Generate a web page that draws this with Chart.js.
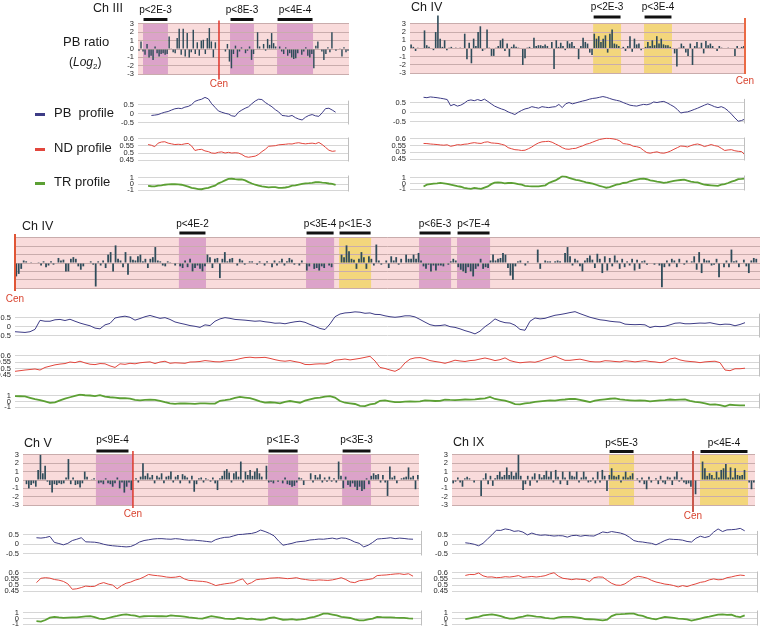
<!DOCTYPE html>
<html><head><meta charset="utf-8">
<script src="https://cdn.jsdelivr.net/npm/chart.js@4.4.1/dist/chart.umd.min.js"></script>
<style>
html,body{margin:0;padding:0;background:#fff;}
#wrap{position:relative;width:763px;height:631px;overflow:hidden;background:#fff;font-family:"Liberation Sans",Arial,Helvetica,sans-serif;color:#1a1a1a;}
#wrap canvas{position:absolute;}
.t{position:absolute;white-space:pre;}
.dash{position:absolute;height:3px;width:10px;}
</style></head><body><div id="wrap"></div>
<script>
const _ = null;

/* ---------- tick labels ---------- */
const ratioTicks = [-3,-2,-1,0,1,2,3];
const pbTicks = [-0.5,0,0.5];
const ndTicks = [0.45,0.5,0.55,0.6];
const trTicks = [-1,0,1];

/* ---------- titles / legend text ---------- */
const chromosomes = ['Ch III','Ch IV','Ch IV','Ch V','Ch IX'];
const legendLabels = ['PB  profile','ND profile','TR profile'];

/* ---------- Ch III ---------- */
const chIII_ratio = [
-0.2,0.9,-0.3,-0.7,0.6,-1.0,-0.8,-1.3,0.3,-0.5,
-0.9,-0.6,-0.5,-0.7,-0.6,1.5,0.1,-0.4,-0.5,1.3,
2.4,-0.7,2.4,-0.9,1.9,-1.0,-0.4,2.3,-0.6,0.8,
-0.8,1.0,1.1,-0.6,1.3,2.5,0.9,-1.0,0.8,_,
_,_,_,-0.3,0.6,-1.5,-2.3,-0.6,0.4,-1.0,
-0.3,0.2,_,-0.5,-0.2,0.3,-1.3,-0.6,_,2.0,
0.3,_,0.6,-0.2,1.2,0.5,1.9,0.7,0.3,_,
0.3,-0.3,-0.6,0.2,-0.8,-0.5,-1.0,-1.2,-1.1,-0.5,
_,-0.7,-0.3,0.2,-0.8,-1.0,-0.6,-2.3,0.4,0.9,
_,-0.3,-1.3,-0.6,0.2,-0.4,2.0,_,-0.2,_,
0.1,-0.9,0.2,-0.4,-0.2];
const chIII_regions = [
 {from:2.5,to:14.9,kind:'m',p:'p<2E-3'},
 {from:45.8,to:57.7,kind:'m',p:'p<8E-3'},
 {from:69.2,to:87.1,kind:'m',p:'p<4E-4'}];
const chIII_cen = 40.3;
const chIII_pb = [
_,_,_,_,-0.1,-0.08,-0.05,0.02,0.08,0.12,
0.2,0.27,0.3,0.28,0.36,0.4,0.5,0.68,0.75,0.8,
0.9,0.82,0.55,0.35,0.15,0.08,0.02,-0.02,-0.12,-0.15,
0.08,0.2,0.3,0.38,0.55,0.7,0.8,0.78,0.62,0.5,
0.38,0.22,0.1,-0.1,-0.12,-0.15,-0.1,-0.22,-0.3,-0.35,
-0.2,-0.1,-0.05,-0.12,-0.15,0.05,0.28,0.3,0.2,0.08,
_,_,_,_];
const chIII_nd = [
_,_,_,0.56,0.555,0.545,0.57,0.578,0.58,0.57,
0.565,0.56,0.562,0.56,0.565,0.568,0.55,0.518,0.524,0.526,
0.515,0.51,0.5,0.498,0.505,0.508,0.5,0.505,0.5,0.502,
0.5,0.49,0.475,0.47,0.474,0.478,0.49,0.51,0.526,0.548,
0.55,0.552,0.558,0.56,0.562,0.565,0.564,0.57,0.573,0.568,
0.565,0.568,0.57,0.566,0.575,0.56,0.54,0.52,0.512,0.515,
_,_,_,_];
const chIII_tr = [
_,_,_,-0.3,-0.35,-0.38,-0.25,-0.2,-0.1,-0.05,
0.0,-0.02,-0.05,-0.1,-0.25,-0.4,-0.6,-0.7,-0.8,-0.83,
-0.7,-0.6,-0.4,-0.25,0.12,0.35,0.6,0.85,0.87,0.8,
0.75,0.75,0.6,0.33,0.1,-0.1,-0.25,-0.38,-0.45,-0.54,
-0.5,-0.5,-0.6,-0.62,-0.55,-0.45,-0.25,-0.2,-0.08,0.05,
0.12,0.15,0.2,0.3,0.33,0.25,0.2,0.1,0.04,-0.12,
_,_,_,_];

/* ---------- Ch IV (upper right) ---------- */
const chIVa_ratio = [
0.5,0.2,-0.3,0.1,_,_,2.2,0.4,0.2,_,
-0.2,2.0,4.0,1.2,0.2,1.0,-0.2,0.1,0.2,_,
0.1,_,0.1,_,1.8,-1.3,0.7,-1.8,1.2,0.3,
2.0,2.7,-0.3,-0.1,2.3,0.1,-0.9,-0.9,0.1,0.3,
1.0,1.2,-0.3,0.6,-1.0,0.2,0.5,0.2,0.1,_,
-2.0,-1.2,0.1,0.2,_,1.3,0.3,0.4,0.4,0.3,
0.5,0.3,_,0.8,-2.5,1.0,0.2,0.7,0.3,-0.2,
0.9,0.6,0.8,0.3,_,-1.3,0.3,1.3,0.8,0.6,
-0.5,-0.8,1.8,1.2,1.5,0.8,1.2,1.6,-0.5,1.8,
2.3,0.6,0.5,0.3,_,0.2,-0.3,0.3,1.5,-0.4,
1.2,0.5,0.6,-0.2,_,0.2,0.8,0.3,1.0,0.4,
1.5,0.6,1.2,0.5,0.4,0.4,0.2,_,-0.6,-2.2,
0.1,0.6,0.3,-0.5,-0.9,0.6,-2.0,0.3,0.8,0.1,
0.7,-0.6,0.9,0.4,0.6,0.3,_,-0.3,0.3,0.1,
_,_,0.1,_,_,-0.9,0.3,_,0.2,0.3];
const chIVa_regions = [
 {from:82,to:94.5,kind:'y',p:'p<2E-3'},
 {from:104.8,to:117.3,kind:'y',p:'p<3E-4'}];
const chIVa_cen = 150;
const chIVa_pb = [
_,_,_,_,0.8,0.78,0.82,0.8,0.78,0.75,
0.72,0.68,0.35,0.42,0.33,0.38,0.48,0.62,0.66,0.62,
0.68,0.62,0.7,0.58,0.45,0.33,0.25,0.18,0.12,0.02,
-0.05,-0.12,0.0,0.1,0.18,0.22,0.3,0.26,0.22,0.3,
0.27,0.25,0.28,0.3,0.42,0.25,0.45,0.52,0.45,0.5,
0.55,0.6,0.64,0.7,0.74,0.76,0.8,0.84,0.8,0.74,
0.68,0.64,0.6,0.52,0.45,0.38,0.35,0.33,0.38,0.42,
0.4,0.45,0.55,0.52,0.56,0.58,0.5,0.4,0.3,0.15,
-0.04,0.0,0.02,0.08,0.15,0.22,0.3,0.38,0.45,0.38,
0.3,0.25,0.3,0.22,0.08,-0.1,-0.3,-0.48,-0.44,-0.36];
const chIVa_nd = [
_,_,_,_,0.566,0.565,0.562,0.56,0.558,0.555,
0.553,0.556,0.545,0.55,0.557,0.555,0.56,0.562,0.568,0.572,
0.568,0.566,0.575,0.578,0.57,0.568,0.566,0.56,0.553,0.535,
0.527,0.52,0.518,0.514,0.516,0.527,0.54,0.557,0.57,0.578,
0.58,0.582,0.575,0.562,0.55,0.535,0.525,0.523,0.528,0.53,
0.54,0.548,0.56,0.566,0.576,0.586,0.595,0.6,0.604,0.603,
0.6,0.595,0.585,0.565,0.562,0.558,0.545,0.542,0.535,0.515,
0.498,0.494,0.5,0.504,0.496,0.494,0.5,0.51,0.523,0.535,
0.547,0.545,0.54,0.55,0.558,0.562,0.555,0.543,0.55,0.558,
0.55,0.545,0.53,0.514,0.518,0.52,0.512,0.508,0.506,0.48];
const chIVa_tr = [
_,_,_,_,-0.5,-0.2,-0.1,0.0,0.05,0.13,
0.05,-0.05,-0.2,-0.3,-0.45,-0.55,-0.75,-0.85,-0.93,-0.75,
-0.85,-0.93,-0.7,-0.5,-0.1,0.15,0.2,0.15,0.05,0.1,
0.13,0.05,-0.1,-0.2,-0.38,-0.45,-0.5,-0.48,-0.5,-0.4,
-0.3,0.1,0.35,0.55,0.9,1.3,1.2,1.0,0.8,0.65,
0.55,0.4,0.2,0.1,0.0,-0.2,-0.4,-0.55,-0.72,-0.6,
-0.4,-0.2,-0.1,0.1,0.15,0.4,0.55,0.7,0.8,0.85,
0.75,0.55,0.45,0.34,0.25,0.13,0.2,0.34,0.45,0.55,
0.62,0.68,0.5,0.34,0.25,0.2,0.0,-0.2,-0.25,-0.3,
-0.35,-0.4,-0.2,-0.1,0.1,0.34,0.5,0.77,0.8,0.85];

/* ---------- Ch IV (full width) ---------- */
const chIVb_ratio = [
-1.6,-1.3,-0.7,0.3,0.2,_,0.1,_,_,0.1,
-0.3,0.2,-0.5,-0.3,0.2,-0.2,_,0.6,0.3,0.4,
-1.0,-1.0,0.5,0.7,0.5,-0.4,-0.8,-0.4,_,_,
0.2,-0.2,-2.8,0.2,-0.3,0.3,-0.6,1.0,1.3,-1.0,
2.1,0.5,0.3,-0.5,1.3,-1.4,0.8,0.4,0.3,0.8,
1.0,0.2,0.5,-0.6,0.5,0.7,1.9,0.3,0.2,-0.3,
-0.4,0.2,0.1,_,-0.3,_,-0.4,-0.6,0.3,-0.5,
0.5,-1.0,-0.6,-0.3,-0.7,-1.0,-0.4,1.0,0.7,-0.6,
0.5,0.6,-1.8,0.5,1.3,0.2,0.5,0.6,_,-0.3,
0.5,0.3,-0.2,_,0.2,0.2,_,-0.2,0.2,_,
-0.3,0.2,_,-0.5,0.3,-0.3,0.2,0.5,-0.3,0.2,
0.6,0.4,-0.2,_,-0.3,0.3,_,-0.9,-0.4,_,
-0.7,-0.6,-0.9,-0.4,-0.6,_,-0.3,-0.5,_,_,
_,1.0,0.7,2.1,1.4,0.5,0.4,-0.7,0.5,1.3,
0.7,-0.7,0.8,0.5,-0.3,2.2,0.3,-0.2,_,0.3,
-0.6,0.8,0.3,0.7,-0.2,0.5,_,1.0,0.5,0.5,
1.0,0.5,1.2,0.3,-0.4,-0.7,-0.2,-1.0,-0.3,-0.9,
-0.3,-0.3,-0.4,_,-0.2,0.2,0.5,0.3,-0.5,-0.8,
-1.0,-1.2,-0.5,-1.0,-1.6,-0.7,-0.4,0.5,-0.7,-0.5,
-0.6,0.3,1.0,0.3,0.5,0.6,1.2,1.0,-0.6,-1.5,
-2.0,-0.4,0.2,0.3,_,-0.3,0.2,_,_,_,
1.6,-0.7,_,0.3,0.2,0.2,_,0.2,0.3,0.2,
_,1.2,1.9,0.8,-0.3,0.5,0.3,-0.4,-1.0,0.3,
0.6,0.9,0.4,-0.6,1.1,0.5,-1.2,0.8,-0.9,0.6,
-0.4,0.9,0.3,-0.7,0.5,-0.5,0.2,-0.3,0.5,-0.9,
0.4,-0.7,0.2,0.3,-0.2,_,_,-0.2,_,-0.3,
-2.9,-0.5,0.3,-0.4,0.5,0.3,-0.5,0.5,_,-0.2,
0.3,_,0.2,0.8,-0.8,1.3,-1.2,0.5,0.3,0.3,
-0.3,-0.2,0.5,-1.7,_,-0.5,0.3,-0.5,1.6,0.2,
0.3,-0.5,_,0.4,-0.4,-1.2,0.3,0.6,0.5,_];
const chIVb_regions = [
 {from:66.0,to:76.9,kind:'m',p:'p<4E-2'},
 {from:117.2,to:128.5,kind:'m',p:'p<3E-4'},
 {from:130.5,to:143.4,kind:'y',p:'p<1E-3'},
 {from:162.7,to:175.6,kind:'m',p:'p<6E-3'},
 {from:178.0,to:191.3,kind:'m',p:'p<7E-4'}];
const chIVb_cen = 0;
const chIVb_pb = [
-0.28,-0.3,-0.32,-0.28,-0.15,0.35,0.3,0.3,0.38,0.4,
0.34,0.41,0.3,0.2,0.12,0.05,-0.08,-0.12,0.1,0.18,
0.48,0.54,0.58,0.52,0.36,0.45,0.55,0.62,0.54,0.46,
0.5,0.4,0.26,0.19,0.13,0.06,0.02,-0.04,0.1,0.06,
0.3,0.43,0.5,0.46,0.4,0.38,0.36,0.33,0.3,0.32,
0.27,0.24,0.19,0.2,0.16,0.22,0.27,0.3,0.24,0.12,
0.02,-0.1,-0.16,0.15,0.55,0.7,0.76,0.78,0.82,0.8,
0.74,0.76,0.68,0.67,0.6,0.55,0.52,0.55,0.6,0.6,
0.54,0.4,0.25,0.11,0.05,0.06,0.1,0.0,-0.04,-0.12,
-0.22,-0.3,-0.4,-0.25,0.0,0.19,0.43,0.3,0.22,0.2,
0.08,-0.15,-0.2,0.3,0.48,0.43,0.46,0.55,0.63,0.67,
0.72,0.78,0.83,0.72,0.62,0.52,0.45,0.38,0.35,0.3,
0.27,0.25,0.14,0.12,0.11,0.12,0.1,-0.05,0.02,0.0,
0.02,0.1,0.19,0.21,0.16,0.16,0.18,0.2,0.19,0.22,
0.16,0.11,0.14,0.13,0.05,0.12,0.22,_,_,_];
const chIVb_nd = [
0.48,0.485,0.49,0.494,0.498,0.49,0.51,0.52,0.53,0.536,
0.54,0.552,0.547,0.558,0.545,0.535,0.532,0.54,0.538,0.522,
0.51,0.538,0.534,0.542,0.538,0.546,0.55,0.553,0.54,0.552,
0.558,0.542,0.546,0.544,0.542,0.552,0.553,0.556,0.563,0.559,
0.554,0.553,0.56,0.563,0.568,0.578,0.586,0.589,0.585,0.586,
0.588,0.58,0.57,0.562,0.558,0.563,0.555,0.548,0.533,0.532,
0.536,0.538,0.537,0.546,0.566,0.57,0.575,0.568,0.574,0.58,
0.588,0.596,0.56,0.51,0.502,0.49,0.48,0.5,0.545,0.574,
0.584,0.586,0.578,0.563,0.556,0.55,0.542,0.553,0.566,0.56,
0.556,0.563,0.566,0.575,0.583,0.574,0.563,0.57,0.584,0.563,
0.553,0.546,0.55,0.553,0.55,0.56,0.574,0.585,0.598,0.58,
0.565,0.565,0.57,0.574,0.565,0.556,0.553,0.553,0.562,0.56,
0.556,0.553,0.562,0.558,0.553,0.558,0.563,0.556,0.553,0.547,
0.553,0.575,0.583,0.568,0.56,0.556,0.553,0.547,0.553,0.556,
0.558,0.547,0.49,0.485,0.5,0.5,0.504,_,_,_];
const chIVb_tr = [
0.93,0.92,0.9,0.65,0.42,0.25,0.05,-0.22,-0.15,0.2,
0.5,0.75,1.0,1.2,1.1,1.05,0.95,1.1,0.85,0.75,
0.68,0.58,0.6,0.5,0.3,0.22,0.3,0.35,0.3,0.13,
-0.1,-0.3,-0.4,-0.31,-0.33,-0.36,-0.4,-0.31,-0.32,-0.36,
-0.35,0.13,0.25,0.4,0.63,0.8,0.7,0.58,0.35,0.04,
-0.18,-0.12,-0.18,-0.31,-0.05,0.1,-0.05,-0.2,0.15,0.4,
0.6,0.67,0.85,0.95,0.7,0.1,-0.2,-0.31,-0.42,-0.76,
-0.8,-0.5,-0.35,0.13,0.2,0.05,-0.09,-0.08,0.0,0.02,
-0.02,0.04,0.2,0.15,0.1,0.13,0.33,0.28,0.25,0.31,
0.36,0.35,0.38,0.49,0.56,0.8,0.45,0.3,0.15,-0.09,
-0.45,-0.5,-0.3,-0.22,-0.05,0.05,0.13,0.22,0.15,0.3,
0.36,0.48,0.45,0.3,0.1,-0.09,0.15,0.3,0.4,0.49,
0.56,0.4,0.3,0.22,0.15,0.2,0.18,0.05,0.12,0.2,
0.25,0.36,0.3,0.33,0.36,0.13,-0.05,-0.15,-0.3,-0.53,
-0.5,-0.6,-0.84,-0.55,-0.6,-0.67,-0.65,_,_,_];

/* ---------- Ch V ---------- */
const chV_ratio = [
_,-0.5,-1.0,-0.6,-0.4,-0.8,1.2,3.0,0.8,1.7,
-0.2,-0.6,-1.5,-0.5,-0.6,-0.4,-0.5,-0.4,0.3,2.5,
-0.5,0.3,-0.6,-0.5,-0.9,-0.4,1.0,0.4,_,0.1,
0.2,_,-0.4,-0.3,-0.5,0.2,-0.4,-0.5,-0.8,-0.4,
0.3,-1.0,-0.3,-1.5,-0.8,-0.3,-1.2,_,0.2,-0.3,
0.4,2.0,0.5,0.8,0.3,0.6,-0.4,0.5,0.3,0.8,
-0.4,0.4,0.5,1.0,-0.3,0.4,0.6,-0.4,0.7,0.5,
0.3,-0.4,0.5,-1.4,-0.5,0.2,0.3,-0.3,0.2,0.1,
-0.2,0.3,-0.4,-1.2,0.2,0.5,1.1,1.3,0.9,-0.3,
0.8,1.0,0.4,2.2,-0.3,1.0,0.6,1.2,0.5,1.0,
1.4,0.8,0.4,_,1.7,-0.3,-0.2,-0.4,_,-0.2,
_,-0.4,0.3,-0.5,-0.6,-0.8,-0.7,-0.3,0.3,0.2,
-0.6,_,_,0.8,-0.3,0.6,0.3,0.7,-0.3,0.3,
-0.2,0.4,-0.2,0.2,-0.3,2.2,0.5,-1.0,0.4,-0.6,
-0.8,-0.4,-0.8,-1.2,-0.8,-1.3,-1.1,0.2,-0.5,0.5,
0.8,0.6,0.7,-0.3,0.6,-0.3,-1.9,1.6,0.3,0.5,
-0.4,_,0.2,0.3,0.4,1.5,0.3,0.5,-1.1,0.6];
const chV_regions = [
 {from:31.3,to:47.2,barTo:45.5,kind:'m',p:'p<9E-4'},
 {from:105.2,to:118.1,kind:'m',p:'p<1E-3'},
 {from:137,to:149.4,kind:'m',p:'p<3E-3'}];
const chV_cen = 47.2;
const chV_pb = [
_,_,_,0.35,0.33,0.36,0.42,0.1,0.04,-0.03,
0.05,0.2,0.27,0.35,0.13,0.12,0.11,0.07,0.0,-0.05,
-0.08,-0.1,-0.12,-0.14,-0.12,-0.02,0.12,0.2,0.24,0.28,
0.3,0.3,0.28,0.27,0.3,0.28,0.24,0.22,0.23,0.2,
0.18,0.15,0.12,0.25,0.32,0.37,0.38,0.45,0.52,0.53,
0.56,0.58,0.64,0.76,0.68,0.58,0.45,0.18,-0.05,0.0,
0.05,0.12,0.15,0.17,0.23,0.25,0.28,0.27,0.3,0.33,
0.28,0.34,0.32,0.24,0.12,0.05,-0.14,-0.05,0.1,0.28,
0.3,0.32,0.35,0.3,0.33,0.31,0.28,0.27,_,_];
const chV_nd = [
_,_,_,0.52,0.555,0.56,0.556,0.545,0.54,0.53,
0.51,0.466,0.47,0.48,0.492,0.488,0.49,0.51,0.52,0.508,
0.5,0.47,0.496,0.515,0.524,0.54,0.55,0.566,0.586,0.58,
0.576,0.572,0.565,0.562,0.564,0.571,0.55,0.538,0.536,0.532,
0.53,0.525,0.512,0.496,0.504,0.51,0.515,0.52,0.538,0.55,
0.506,0.52,0.543,0.548,0.55,0.556,0.558,0.56,0.556,0.552,
0.555,0.56,0.55,0.545,0.54,0.538,0.542,0.54,0.538,0.542,
0.55,0.56,0.545,0.525,0.52,0.535,0.54,0.545,0.552,0.577,
0.58,0.582,0.586,0.59,0.592,0.586,0.592,0.572,_,_];
const chV_tr = [
_,_,_,-0.45,-0.52,-0.25,0.15,0.3,0.2,0.12,
0.18,0.2,0.22,0.3,0.38,0.42,0.25,0.0,-0.09,0.1,
0.3,0.45,0.65,0.72,0.6,0.5,0.3,0.4,0.42,0.43,
0.4,0.4,0.38,0.55,0.48,0.42,0.32,0.2,0.12,0.02,
-0.02,0.2,0.42,0.3,0.18,0.0,-0.05,-0.09,0.1,0.05,
-0.09,-0.02,-0.15,-0.22,-0.12,0.1,0.2,0.0,-0.2,-0.18,
-0.1,-0.22,-0.15,-0.05,0.15,0.3,0.55,0.87,0.85,0.7,
0.55,0.3,0.22,0.1,-0.12,-0.3,-0.3,-0.15,0.0,0.3,
0.25,0.22,0.22,0.15,0.13,0.13,0.05,0.0,_,_];

/* ---------- Ch IX ---------- */
const chIX_ratio = [
-0.4,-0.2,0.3,-0.3,-0.8,0.2,0.4,0.2,_,-0.3,
_,_,-1.9,0.2,0.8,-0.5,0.5,-0.7,0.2,0.6,
1.0,0.4,0.6,1.5,0.6,1.0,0.5,0.9,3.0,0.5,
-1.2,-0.5,0.5,-0.7,0.4,0.8,-0.3,0.7,0.3,0.6,
1.1,0.4,1.0,-0.3,1.2,0.4,-0.5,1.0,0.3,-0.6,
1.0,0.5,0.4,1.0,-0.3,0.3,1.0,0.4,-0.3,-0.2,
0.3,-0.4,1.0,-0.3,1.2,0.5,-1.3,0.6,1.4,0.5,
0.4,0.6,-0.3,0.4,1.0,0.3,0.5,0.8,_,0.2,
-0.3,0.3,-0.5,-1.1,0.4,-0.3,_,0.2,-0.5,0.5,
-0.3,-0.5,0.4,0.3,-0.6,0.4,1.0,-0.2,0.3,-0.3,
-0.5,-0.4,-0.8,_,-1.7,_,_,2.2,1.4,0.5,
0.8,0.6,0.2,1.0,0.3,1.2,1.4,1.9,0.3,1.5,
0.3,1.4,0.6,0.5,0.6,1.2,_,-0.3,-1.1,-0.3];
const chIX_regions = [
 {from:67.4,to:78.1,kind:'y',p:'p<5E-3'},
 {from:106.4,to:127,kind:'y',p:'p<4E-4'}];
const chIX_cen = 103.4;
const chIX_pb = [
_,_,_,0.08,0.05,0.0,-0.08,0.05,0.28,0.5,
0.75,0.74,0.82,0.78,0.69,0.72,0.65,0.5,0.6,0.52,
0.48,0.5,0.47,0.44,0.46,0.45,0.38,0.46,0.48,0.43,
0.47,0.45,0.44,0.55,0.66,0.62,0.68,0.64,0.6,0.52,
0.38,0.2,0.14,0.12,0.08,0.05,-0.03,0.08,0.2,0.28,
0.26,0.25,0.22,0.15,0.12,0.32,0.43,0.36,0.42,0.65,
0.82,0.68,0.77,0.78,0.8,0.85,0.72,_,_,_];
const chIX_nd = [
_,_,_,0.578,0.586,0.585,0.598,0.575,0.565,0.566,
0.56,0.562,0.568,0.565,0.57,0.577,0.562,0.566,0.57,0.565,
0.57,0.576,0.59,0.6,0.572,0.555,0.55,0.544,0.55,0.546,
0.545,0.528,0.56,0.566,0.564,0.538,0.514,0.5,0.498,0.51,
0.535,0.56,0.571,0.565,0.556,0.538,0.525,0.517,0.508,0.504,
0.496,0.485,0.496,0.488,0.5,0.51,0.522,0.528,0.542,0.55,
0.543,0.545,0.56,0.566,0.575,0.581,0.577,_,_,_];
const chIX_tr = [
_,_,_,-0.09,0.05,0.2,0.3,0.55,0.65,0.74,
0.6,0.43,0.15,0.0,-0.02,0.2,0.35,0.56,0.45,0.35,
0.3,0.12,0.05,0.0,0.2,0.28,0.3,0.3,0.22,0.1,
-0.09,-0.12,-0.15,-0.22,-0.3,-0.2,0.43,0.74,0.76,0.8,
0.87,0.86,0.6,0.45,0.15,0.0,-0.13,0.1,0.28,0.2,
0.12,0.0,-0.05,-0.15,-0.35,-0.2,0.0,0.2,0.35,0.52,
0.7,0.74,0.65,0.7,0.4,0.25,0.55,_,_,_];

/* ---------- styles ---------- */
const PINK = '#f9dbdb', MAGENTA = '#dca3c9', YELLOW = '#f3d67c';
const GRID_PINK = '#c9acac', GRID_GRAY = '#d6d6d6', BORDER_GRAY = '#bfbfbf';
const BAR_COLOR = '#2f4c5a';
const PB_COLOR = '#3e3c86', ND_COLOR = '#e2463d', TR_COLOR = '#5ca034';
const TICK_FONT = {family:'"Liberation Sans Narrow","Liberation Sans",Arial,sans-serif', size:7.5};

const GROUPS = [
 {title:0, tx:93, ty:9, ratio:chIII_ratio, regions:chIII_regions, cen:chIII_cen, pb:chIII_pb, nd:chIII_nd, tr:chIII_tr,
  x0:138, x1:349, px1:349, axisW:30, bar:[22.5,74.5], barTicks:true, pbY:[93.8,126.8], ndY:[135.3,164.7], trY:[173.3,194.1],
  labelDy:12.5, barDy:3.5, cenUp:2.5, cenDown:4.5, cenTextDy:9, cenColor:'#e0352b', cenW:1.5},
 {title:1, tx:411, ty:8, ratio:chIVa_ratio, regions:chIVa_regions, cen:chIVa_cen, pb:chIVa_pb, nd:chIVa_nd, tr:chIVa_tr,
  x0:410, x1:745, px1:745, axisW:30, bar:[22.9,73.5], barTicks:true, pbY:[92.1,126.2], ndY:[135.3,163.7], trY:[173.4,193.7],
  labelDy:16, barDy:6, cenUp:5, cenDown:0, cenTextDy:7, cenColor:'#ea6a45', cenW:2},
 {title:2, tx:22, ty:227, ratio:chIVb_ratio, regions:chIVb_regions, cen:chIVb_cen, pb:chIVb_pb, nd:chIVb_nd, tr:chIVb_tr,
  x0:15, x1:760, px1:760, axisW:15, bar:[236.8,288.4], barTicks:false, pbY:[307.4,339.9], ndY:[352.4,379.3], trY:[390.5,410],
  labelDy:13, barDy:4, cenUp:3, cenDown:2, cenTextDy:10, cenColor:'#e05535', cenW:2},
 {title:3, tx:24, ty:444, ratio:chV_ratio, regions:chV_regions, cen:chV_cen, pb:chV_pb, nd:chV_nd, tr:chV_tr,
  x0:23, x1:419, px1:422, axisW:23, bar:[454.2,505.8], barTicks:true, pbY:[523.7,557.3], ndY:[569.2,595.5], trY:[607.6,627.5],
  labelDy:14, barDy:3, cenUp:3, cenDown:2, cenTextDy:8.5, cenColor:'#dd3a2c', cenW:1.5},
 {title:4, tx:453, ty:443, ratio:chIX_ratio, regions:chIX_regions, cen:chIX_cen, pb:chIX_pb, nd:chIX_nd, tr:chIX_tr,
  x0:452, x1:755, px1:758, axisW:30, bar:[454.2,506.5], barTicks:true, pbY:[523.7,557.3], ndY:[569.2,595.5], trY:[607.6,627.5],
  labelDy:11, barDy:2.5, cenUp:3, cenDown:6, cenTextDy:10, cenColor:'#c9574c', cenW:2}
];

const wrap = document.getElementById('wrap');

function mkCanvas(x, y, w, h) {
  const c = document.createElement('canvas');
  c.width = Math.round(w); c.height = Math.round(h);
  c.style.left = Math.round(x) + 'px'; c.style.top = Math.round(y) + 'px';
  c.style.width = Math.round(w) + 'px'; c.style.height = Math.round(h) + 'px';
  wrap.appendChild(c);
  return c;
}
function addText(html, x, cy, size, extra) {
  const d = document.createElement('div');
  d.className = 't';
  d.style.left = x + 'px';
  d.style.top = (cy - size * 0.58) + 'px';
  d.style.fontSize = size + 'px';
  d.style.lineHeight = size + 'px';
  if (extra) Object.assign(d.style, extra);
  d.innerHTML = html;
  wrap.appendChild(d);
}
function addDash(x, cy, color) {
  const d = document.createElement('div');
  d.className = 'dash';
  d.style.left = x + 'px'; d.style.top = (cy - 1.5) + 'px'; d.style.background = color;
  wrap.appendChild(d);
}
const fmt = v => String(Math.round(v * 1000) / 1000);

const deco = {
  id: 'deco',
  beforeDraw(chart, args, o) {
    if (!o || o.kind !== 'bar') return;
    const {ctx, chartArea: a} = chart;
    const n = chart.data.labels.length;
    const xp = v => a.left + (a.right - a.left) * v / n;
    ctx.save();
    ctx.fillStyle = PINK;
    ctx.fillRect(a.left, a.top, a.right - a.left, a.bottom - a.top);
    o.regions.forEach(r => {
      ctx.fillStyle = r.kind === 'y' ? YELLOW : MAGENTA;
      ctx.fillRect(xp(r.from), a.top, xp(r.to) - xp(r.from), a.bottom - a.top);
    });
    ctx.restore();
  },
  afterDraw(chart, args, o) {
    if (!o) return;
    const {ctx, chartArea: a} = chart;
    ctx.save();
    if (o.kind === 'bar') {
      const n = chart.data.labels.length;
      const xp = v => a.left + (a.right - a.left) * v / n;
      ctx.font = '10px "Liberation Sans", Arial, sans-serif';
      ctx.textAlign = 'center'; ctx.textBaseline = 'middle';
      o.regions.forEach(r => {
        const x1 = xp(r.from) + 0.5, x2 = xp(r.barTo != null ? r.barTo : r.to) - 0.5;
        ctx.strokeStyle = '#111'; ctx.lineWidth = 3;
        ctx.beginPath(); ctx.moveTo(x1, a.top - o.barDy); ctx.lineTo(x2, a.top - o.barDy); ctx.stroke();
        ctx.fillStyle = '#111';
        ctx.fillText(r.p, (x1 + x2) / 2, a.top - o.labelDy);
      });
      const cx = xp(o.cen);
      ctx.strokeStyle = o.cenColor; ctx.lineWidth = o.cenW;
      ctx.beginPath(); ctx.moveTo(cx, a.top - o.cenUp); ctx.lineTo(cx, a.bottom + o.cenDown); ctx.stroke();
      ctx.fillStyle = '#d8432f';
      ctx.fillText('Cen', cx, a.bottom + o.cenTextDy);
    } else if (o.kind === 'line') {
      const ys = chart.scales.y;
      const topT = ys.getPixelForValue(o.topTick) - 4;
      ctx.strokeStyle = BORDER_GRAY; ctx.lineWidth = 1;
      ctx.beginPath(); ctx.moveTo(a.right - 0.5, Math.max(a.top, topT)); ctx.lineTo(a.right - 0.5, a.bottom); ctx.stroke();
    }
    ctx.restore();
  }
};

function yScale(min, max, ticks, showTicks, axisW, gridColor) {
  return {
    min: min, max: max,
    afterFit: s => { s.width = axisW; },
    afterBuildTicks: s => { s.ticks = ticks.map(v => ({value: v})); },
    grid: {color: gridColor, lineWidth: 1, drawTicks: false},
    border: {display: false},
    ticks: {display: showTicks, padding: 4, font: TICK_FONT, color: '#262626', callback: v => fmt(v), autoSkip: false}
  };
}

function barChart(g) {
  const padTop = 30, padBot = 18, padRight = 14;
  const c = mkCanvas(g.x0 - g.axisW, g.bar[0] - padTop, (g.x1 - g.x0) + g.axisW + padRight, (g.bar[1] - g.bar[0]) + padTop + padBot);
  new Chart(c, {
    type: 'bar',
    data: {labels: g.ratio.map((v, i) => i),
      datasets: [{data: g.ratio, backgroundColor: BAR_COLOR, borderWidth: 0, barPercentage: 0.72, categoryPercentage: 1, clip: false}]},
    options: {
      responsive: false, animation: false, devicePixelRatio: 1, events: [],
      layout: {padding: {top: padTop, bottom: padBot, left: 0, right: padRight}},
      plugins: {legend: {display: false}, tooltip: {enabled: false},
        deco: {kind: 'bar', regions: g.regions, cen: g.cen, labelDy: g.labelDy, barDy: g.barDy, cenUp: g.cenUp,
               cenDown: g.cenDown, cenTextDy: g.cenTextDy, cenColor: g.cenColor, cenW: g.cenW}},
      scales: {x: {display: false}, y: yScale(-3.1, 3.1, ratioTicks, g.barTicks, g.axisW, GRID_PINK)}
    },
    plugins: [deco]
  });
}

function lineChart(g, data, box, min, max, ticks, color, width) {
  const pad = 6;
  const c = mkCanvas(g.x0 - g.axisW, box[0] - pad, (g.px1 - g.x0) + g.axisW + 1, (box[1] - box[0]) + 2 * pad);
  new Chart(c, {
    type: 'line',
    data: {labels: data.map((v, i) => i),
      datasets: [{data: data, borderColor: color, borderWidth: width, pointRadius: 0, tension: 0, spanGaps: false, fill: false}]},
    options: {
      responsive: false, animation: false, devicePixelRatio: 1, events: [],
      layout: {padding: {top: pad, bottom: pad, left: 0, right: 1}},
      plugins: {legend: {display: false}, tooltip: {enabled: false}, deco: {kind: 'line', topTick: ticks[ticks.length - 1]}},
      scales: {x: {display: false, offset: false}, y: yScale(min, max, ticks, true, g.axisW, GRID_GRAY)}
    },
    plugins: [deco]
  });
}

GROUPS.forEach(g => {
  barChart(g);
  lineChart(g, g.pb, g.pbY, -0.6, 0.95, pbTicks, PB_COLOR, 1);
  lineChart(g, g.nd, g.ndY, 0.44, 0.61, ndTicks, ND_COLOR, 1);
  lineChart(g, g.tr, g.trY, -1.2, 1.4, trTicks, TR_COLOR, 1.8);
  addText(chromosomes[g.title], g.tx, g.ty, 12.5);
});

/* left-hand labels of the first block */
addText('PB ratio', 63, 43, 13);
addText('(<i>Log</i><sub style="font-size:8px;line-height:0">2</sub>)', 69, 63, 12);
const legendY = [114, 149, 183];
const legendColors = [PB_COLOR, ND_COLOR, TR_COLOR];
legendLabels.forEach((t, i) => {
  addDash(35, legendY[i], legendColors[i]);
  addText(t, 54, legendY[i], 13);
});
</script>
</body></html>
